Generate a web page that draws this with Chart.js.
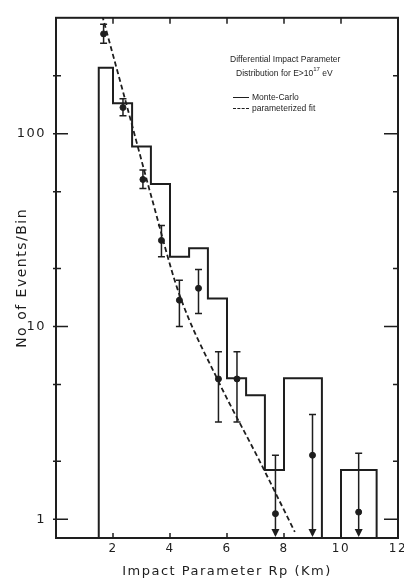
<!DOCTYPE html>
<html>
<head>
<meta charset="utf-8">
<script src="https://cdn.jsdelivr.net/npm/chart.js@4.4.1/dist/chart.umd.min.js"></script>
<style>
html,body{margin:0;padding:0;background:#fff;}
#wrap{position:relative;width:404px;height:579px;}
#notas{position:absolute;left:230px;top:54px;font:8.5px "Liberation Sans",sans-serif;color:#1e1e1e;line-height:11px;white-space:nowrap;}
#notas sup{font-size:6px;position:relative;top:-1px;}
.leg{margin-left:3px;}
.muestra{display:inline-block;width:16px;height:0;vertical-align:middle;margin-right:3px;}
.solida{border-top:1.5px solid #1e1e1e;}
.rayada{border-top:1.5px dashed #1e1e1e;}
</style>
</head>
<body>
<div id="wrap">
<canvas id="grafica" width="404" height="579"></canvas>
<div id="notas">
  <div>Differential Impact Parameter</div>
  <div style="padding-left:6px">Distribution for E&gt;10<sup>17</sup> eV</div>
  <div class="leg" style="margin-top:13px"><span class="muestra solida"></span>Monte-Carlo</div>
  <div class="leg"><span class="muestra rayada"></span>parameterized fit</div>
</div>
</div>
<script>
// histograma Monte-Carlo (bordes de bin en km, cuentas por bin)
const binEdges = [1.5, 2.0, 2.67, 3.33, 4.0, 4.67, 5.33, 6.0, 6.67, 7.33, 8.0, 9.33, 10.0, 11.25];
const mcCounts = [220, 144, 86, 55, 23, 25.5, 14, 5.4, 4.4, 1.8, 5.4, 0, 1.8];

// datos medidos con barras de error (evLo = 0 -> limite superior, flecha)
const rpX  = [1.67, 2.35, 3.05, 3.7, 4.33, 5.0, 5.7, 6.35, 7.7, 9.0, 10.62];
const evY  = [330, 137, 58, 28, 13.7, 15.8, 5.35, 5.35, 1.07, 2.15, 1.09];
const evHi = [370, 152, 65, 33.5, 17.4, 19.8, 7.4, 7.4, 2.15, 3.5, 2.2];
const evLo = [295, 124, 52, 23, 10, 11.7, 3.2, 3.2, 0, 0, 0];

// ajuste parametrizado
const fitX = [1.62, 2.49, 3.36, 4.3, 5.7, 7.09, 8.38];
const fitY = [412, 139, 46.4, 15.1, 5.2, 2.08, 0.86];

const yTicks = [1, 2, 5, 10, 20, 50, 100, 200];
const yLabels = [1, 10, 100];
const xTicks = [2, 4, 6, 8, 10];

const yMin = 0.8, yMax = 400;
const tinta = "#1e1e1e";

function contornoHist(){
    const pts = [{x: binEdges[0], y: yMin}];
    mcCounts.forEach((c, i) => {
        const h = c > 0 ? c : yMin;
        pts.push({x: binEdges[i], y: h}, {x: binEdges[i+1], y: h});
    });
    pts.push({x: binEdges[binEdges.length-1], y: yMin});
    return pts;
}

const marco = {
    id: "marco",
    beforeDraw(chart){
        // rotulado espaciado como en el original
        chart.ctx.letterSpacing = "1.5px";
    },
    afterDatasetsDraw(chart){
        const {ctx, chartArea: a, scales: {x, y}} = chart;
        ctx.save();
        ctx.strokeStyle = tinta;
        ctx.fillStyle = tinta;

        // barras de error
        ctx.lineWidth = 1.5;
        rpX.forEach((v, i) => {
            const px = x.getPixelForValue(v);
            const top = y.getPixelForValue(evHi[i]);
            const flecha = !(evLo[i] > 0);
            const bot = flecha ? a.bottom - 3 : y.getPixelForValue(evLo[i]);
            ctx.beginPath();
            ctx.moveTo(px, top); ctx.lineTo(px, bot);
            ctx.moveTo(px - 3.5, top); ctx.lineTo(px + 3.5, top);
            if (!flecha) { ctx.moveTo(px - 3.5, bot); ctx.lineTo(px + 3.5, bot); }
            ctx.stroke();
            if (flecha) {
                ctx.beginPath();
                ctx.moveTo(px - 4, a.bottom - 9);
                ctx.lineTo(px + 4, a.bottom - 9);
                ctx.lineTo(px, a.bottom - 1);
                ctx.closePath();
                ctx.fill();
            }
        });

        // marco
        ctx.lineWidth = 2;
        ctx.strokeRect(a.left, a.top, a.right - a.left, a.bottom - a.top);

        // marcas hacia dentro
        ctx.lineWidth = 1.5;
        ctx.beginPath();
        yTicks.forEach(t => {
            const py = y.getPixelForValue(t);
            const mayor = yLabels.includes(t);
            ctx.moveTo(a.left - 3, py); ctx.lineTo(a.left + (mayor ? 12 : 5), py);
            ctx.moveTo(a.right, py); ctx.lineTo(a.right - (mayor ? 14 : 5), py);
        });
        xTicks.forEach(t => {
            const px = x.getPixelForValue(t);
            ctx.moveTo(px, a.bottom); ctx.lineTo(px, a.bottom - 5);
            ctx.moveTo(px, a.top); ctx.lineTo(px, a.top + 6);
        });
        ctx.stroke();
        ctx.restore();
    }
};

new Chart(document.getElementById("grafica"), {
    type: "scatter",
    data: {
        datasets: [
            {
                type: "line",
                label: "Monte-Carlo",
                data: contornoHist(),
                borderColor: tinta,
                borderWidth: 2,
                pointRadius: 0,
                tension: 0,
                fill: false
            },
            {
                type: "line",
                label: "parameterized fit",
                data: fitX.map((v, i) => ({x: v, y: fitY[i]})),
                borderColor: tinta,
                borderWidth: 1.8,
                borderDash: [5, 3],
                pointRadius: 0,
                cubicInterpolationMode: "monotone",
                fill: false
            },
            {
                label: "datos",
                data: rpX.map((v, i) => ({x: v, y: evY[i]})),
                backgroundColor: tinta,
                borderColor: tinta,
                pointRadius: 3,
                pointHoverRadius: 3
            }
        ]
    },
    options: {
        responsive: false,
        animation: false,
        layout: {padding: {top: 10, right: 6, left: 0, bottom: 0}},
        plugins: {legend: {display: false}, tooltip: {enabled: false}},
        scales: {
            x: {
                type: "linear",
                min: 0, max: 12,
                grid: {display: false, drawTicks: false},
                border: {display: false},
                ticks: {
                    stepSize: 2,
                    padding: 4,
                    color: tinta,
                    font: {family: "DejaVu Sans", size: 12},
                    callback: v => v === 0 ? "" : v
                },
                title: {
                    display: true,
                    text: "Impact Parameter Rp (Km)",
                    color: tinta,
                    font: {family: "DejaVu Sans", size: 13},
                    padding: {top: 0, bottom: 0}
                },
                afterFit: s => { s.height = 41; s.paddingRight = 0; }
            },
            y: {
                type: "logarithmic",
                min: yMin, max: yMax,
                grid: {display: false, drawTicks: false},
                border: {display: false},
                afterBuildTicks: s => { s.ticks = yTicks.map(v => ({value: v})); },
                ticks: {
                    autoSkip: false,
                    padding: 10,
                    color: tinta,
                    font: {family: "DejaVu Sans", size: 13},
                    callback: v => yLabels.includes(v) ? String(v) : ""
                },
                title: {
                    display: true,
                    text: "No of Events/Bin",
                    color: tinta,
                    font: {family: "DejaVu Sans", size: 14},
                    padding: {top: 14, bottom: 0}
                },
                afterFit: s => { s.width = 56; }
            }
        }
    },
    plugins: [marco]
});
</script>
</body>
</html>
